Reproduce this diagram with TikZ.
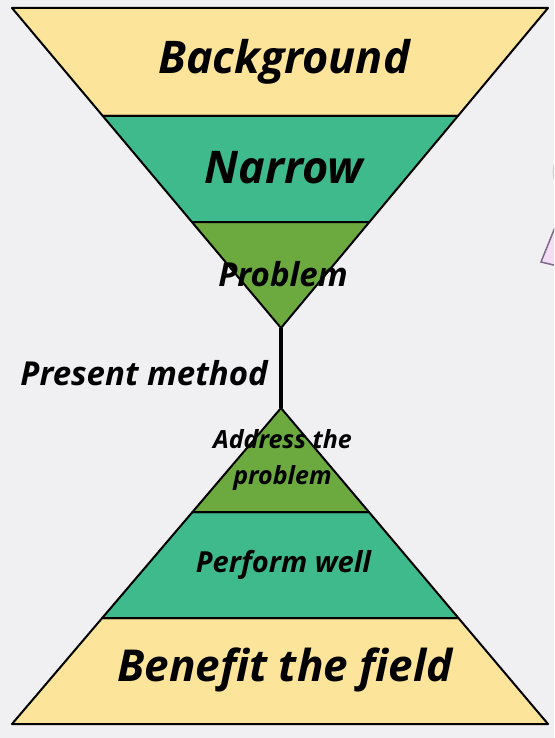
\documentclass[tikz,border=0pt]{standalone}
\usepackage{fontspec}
\setmainfont{Open Sans}
\definecolor{bgpage}{RGB}{240,239,242}
\definecolor{bandyellow}{RGB}{252,228,154}
\definecolor{bandteal}{RGB}{62,186,140}
\definecolor{bandgreen}{RGB}{108,170,64}
\definecolor{edgepurple}{RGB}{122,106,136}
\definecolor{fillpurple}{RGB}{243,222,246}
\tikzset{
  band/.style={draw=black, line width=2pt, line join=round},
  lbl/.style={text=black, inner sep=0pt}
}
\newcommand{\lblfont}[1]{\fontsize{#1}{#1}\selectfont\bfseries\itshape}
\begin{document}
\begin{tikzpicture}[x=1pt, y=-1pt]
    \useasboundingbox (0,0) rectangle (554,738);
    \clip (0,0) rectangle (554,738);
    \fill[bgpage] (0,0) rectangle (554,738);

    % funnel on top
    \coordinate (topapex) at (281,328);
    \draw[band, fill=bandyellow] (12,8) -- (548,8) -- (457.9,116) -- (102.8,116) -- cycle;
    \draw[band, fill=bandteal] (102.8,116) -- (457.9,116) -- (369.4,222) -- (191.9,222) -- cycle;
    \draw[band, fill=bandgreen] (191.9,222) -- (369.4,222) -- (topapex) -- cycle;
    \node[lbl, font=\lblfont{45}] (bg) at (284,62) {Background};
    \node[lbl, font=\lblfont{45}] (narrow) at (284,168) {Narrow};
    \node[lbl, font=\lblfont{33}] (prob) at (283,274) {Problem};

    % pyramid below
    \coordinate (botapex) at (281,408);
    \draw[band, fill=bandyellow] (102.2,618) -- (458.4,618) -- (548,724) -- (12,724) -- cycle;
    \draw[band, fill=bandteal] (192.5,512) -- (368.9,512) -- (458.4,618) -- (102.2,618) -- cycle;
    \draw[band, fill=bandgreen] (botapex) -- (368.9,512) -- (192.5,512) -- cycle;
    \node[lbl, font=\lblfont{25}, align=center] (addr) at (282.5,460) {Address the\\[11pt]problem};
    \node[lbl, font=\lblfont{29}] (perf) at (283.5,565) {Perform well};
    \node[lbl, font=\lblfont{44}] (benefit) at (285,670) {Benefit the field};

    % link between the two
    \draw[line width=4pt] (topapex) -- (botapex);
    \node[lbl, font=\lblfont{33}, anchor=east] (method) at (268,373) {Present method};

    % cut-off shape at the right border
    \draw[draw=edgepurple, fill=fillpurple, line width=1.5pt] (562,210) -- (541,262) -- (562,267);
    \draw[gray!40, line width=1pt] (556,183) arc[start angle=150, end angle=210, radius=22];
\end{tikzpicture}
\end{document}
